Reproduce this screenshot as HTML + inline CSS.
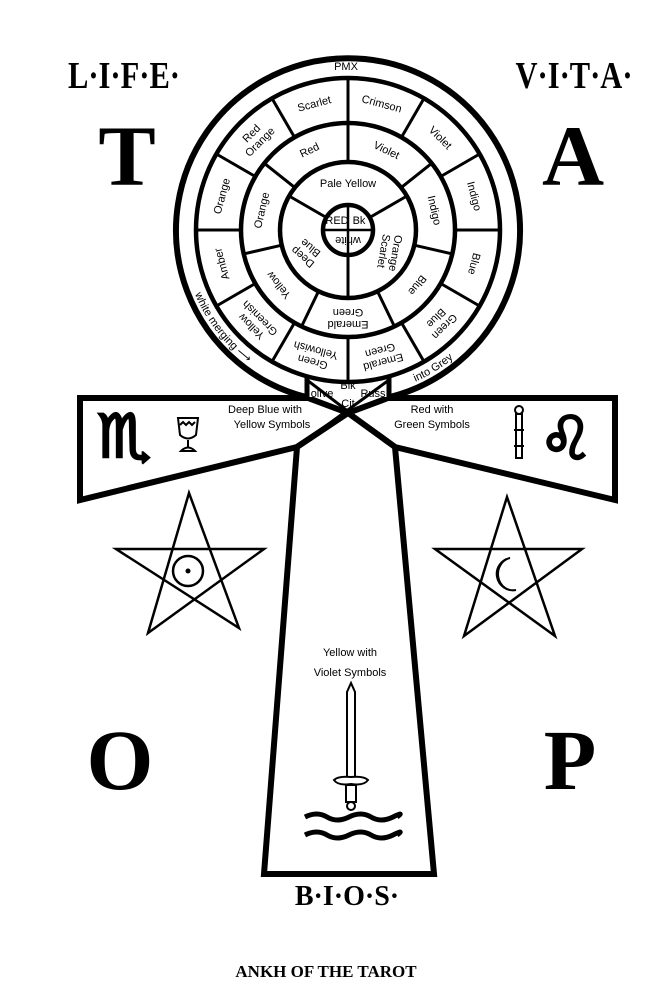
<!DOCTYPE html>
<html><head><meta charset="utf-8"><style>
html,body{margin:0;padding:0;background:#fff;}
svg{display:block;}
.h{font-family:"Liberation Sans",sans-serif;font-size:11px;fill:#000;text-anchor:middle;dominant-baseline:central;}
.s{font-family:"Liberation Serif",serif;font-weight:bold;fill:#000;text-anchor:middle;}
.z{font-family:"DejaVu Sans",sans-serif;fill:#000;stroke:#000;stroke-width:2.5;text-anchor:middle;}
</style></head><body>
<svg width="652" height="1000" viewBox="0 0 652 1000" xmlns="http://www.w3.org/2000/svg">
<rect width="652" height="1000" fill="#fff"/>
<text class="s" x="124" y="88" font-size="38" textLength="112" lengthAdjust="spacingAndGlyphs">L·I·F·E·</text>
<text class="s" x="574" y="88" font-size="38" textLength="117" lengthAdjust="spacingAndGlyphs">V·I·T·A·</text>
<text class="s" x="127" y="185" font-size="86">T</text>
<text class="s" x="573" y="185" font-size="86">A</text>
<text class="s" x="120" y="789" font-size="86" font-weight="normal">O</text>
<text class="s" x="570" y="789" font-size="86" font-weight="normal">P</text>
<text class="s" x="347" y="905" font-size="28">B·I·O·S·</text>
<text class="s" x="326" y="977" font-size="17">ANKH OF THE TAROT</text>

<g fill="#fff" stroke="#000" stroke-width="6" stroke-linejoin="miter">
<polygon points="80,398 308,398 348,413 297,447 80,500"/>
<polygon points="615,398 388,398 348,413 395,447 615,500"/>
<polygon points="297,447 348,413 395,447 434,874 264,874"/>
</g>
<path d="M306,397 A172,172 0 1 1 390,397" fill="#fff" stroke="#000" stroke-width="6"/>
<g stroke="#000" fill="none">
<line x1="307" y1="376" x2="307" y2="398" stroke-width="5"/>
<line x1="389" y1="376" x2="389" y2="398" stroke-width="5"/>
<line x1="307" y1="380" x2="395" y2="447" stroke-width="3"/>
<line x1="389" y1="380" x2="297" y2="447" stroke-width="3"/>
</g>
<text class="h" x="322" y="394" font-size="7">olive</text>
<text class="h" x="348" y="386" font-size="7">Blk</text>
<text class="h" x="373" y="394" font-size="7">Russ</text>
<text class="h" x="348" y="404" font-size="8">Cit</text>

<g fill="#fff" stroke="#000" stroke-width="4.5">
<circle cx="348" cy="230" r="152"/>
<circle cx="348" cy="230" r="107"/>
<circle cx="348" cy="230" r="68"/>
<circle cx="348" cy="230" r="25"/>
</g>
<g stroke="#000" stroke-width="3">
<line x1="348" y1="123" x2="348" y2="78"/>
<line x1="401.5" y1="137.3" x2="424" y2="98.4"/>
<line x1="440.7" y1="176.5" x2="479.6" y2="154"/>
<line x1="455" y1="230" x2="500" y2="230"/>
<line x1="440.7" y1="283.5" x2="479.6" y2="306"/>
<line x1="401.5" y1="322.7" x2="424" y2="361.6"/>
<line x1="348" y1="337" x2="348" y2="382"/>
<line x1="294.5" y1="322.7" x2="272" y2="361.6"/>
<line x1="255.3" y1="283.5" x2="216.4" y2="306"/>
<line x1="241" y1="230" x2="196" y2="230"/>
<line x1="255.3" y1="176.5" x2="216.4" y2="154"/>
<line x1="294.5" y1="137.3" x2="272" y2="98.4"/>
<line x1="348" y1="162" x2="348" y2="123"/>
<line x1="401.2" y1="187.6" x2="431.7" y2="163.3"/>
<line x1="414.3" y1="245.2" x2="452.3" y2="253.9"/>
<line x1="377.5" y1="291.3" x2="394.4" y2="326.4"/>
<line x1="318.5" y1="291.3" x2="301.6" y2="326.4"/>
<line x1="281.7" y1="245.2" x2="243.7" y2="253.9"/>
<line x1="294.8" y1="187.6" x2="264.3" y2="163.3"/>
<line x1="369.7" y1="217.5" x2="406.9" y2="196"/>
<line x1="348" y1="255" x2="348" y2="298"/>
<line x1="326.3" y1="217.5" x2="289.1" y2="196"/>
<line x1="348" y1="205" x2="348" y2="255" stroke-width="2.5"/>
<line x1="323" y1="230" x2="373" y2="230" stroke-width="2.5"/>
</g>
<text class="h" x="337" y="221" font-size="5">RED</text>
<text class="h" x="359" y="221" font-size="5">Bk</text>
<text class="h" x="348" y="240" font-size="6" transform="rotate(180 348 240)">white</text>

<text class="h" transform="translate(381.6,104.4) rotate(15)">Crimson</text>
<text class="h" transform="translate(439.9,138.1) rotate(45)">Violet</text>
<text class="h" transform="translate(473.6,196.3) rotate(75)">Indigo</text>
<text class="h" transform="translate(473.6,263.7) rotate(105)">Blue</text>
<text class="h" transform="translate(439.9,321.9) rotate(135)"><tspan x="0" dy="-6">Green</tspan><tspan x="0" dy="12">Blue</tspan></text>
<text class="h" transform="translate(381.6,355.6) rotate(165)"><tspan x="0" dy="-6">Emerald</tspan><tspan x="0" dy="12">Green</tspan></text>
<text class="h" transform="translate(314.4,355.6) rotate(195)"><tspan x="0" dy="-6">Green</tspan><tspan x="0" dy="12">Yellowish</tspan></text>
<text class="h" transform="translate(256.1,321.9) rotate(225)"><tspan x="0" dy="-6">Yellow</tspan><tspan x="0" dy="12">Greenish</tspan></text>
<text class="h" transform="translate(222.4,263.7) rotate(255)">Amber</text>
<text class="h" transform="translate(222.4,196.3) rotate(285)">Orange</text>
<text class="h" transform="translate(256.1,138.1) rotate(315)"><tspan x="0" dy="-6">Red</tspan><tspan x="0" dy="12">Orange</tspan></text>
<text class="h" transform="translate(314.4,104.4) rotate(345)">Scarlet</text>
<text class="h" transform="translate(386.2,150.7) rotate(25.7)">Violet</text>
<text class="h" transform="translate(433.8,210.4) rotate(77.1)">Indigo</text>
<text class="h" transform="translate(416.8,284.8) rotate(128.6)">Blue</text>
<text class="h" transform="translate(348,318) rotate(180)"><tspan x="0" dy="-6">Emerald</tspan><tspan x="0" dy="12">Green</tspan></text>
<text class="h" transform="translate(279.2,284.8) rotate(231.4)">Yellow</text>
<text class="h" transform="translate(262.2,210.4) rotate(282.9)">Orange</text>
<text class="h" transform="translate(309.8,150.7) rotate(334.3)">Red</text>
<text class="h" transform="translate(348,184)">Pale Yellow</text>
<text class="h" transform="translate(389,252) rotate(100)"><tspan x="0" dy="-6">Orange</tspan><tspan x="0" dy="12">Scarlet</tspan></text>
<text class="h" transform="translate(307,252) rotate(220)"><tspan x="0" dy="-6">Deep</tspan><tspan x="0" dy="12">Blue</tspan></text>

<text class="h" x="346" y="67" font-size="14">PMX</text>
<defs><path id="arc" d="M192,286.8 A166,166 0 0 0 504,286.8"/></defs>
<text font-family="Liberation Sans,sans-serif" font-size="11"><textPath href="#arc" startOffset="8">white merging ⟶</textPath></text>
<text font-family="Liberation Sans,sans-serif" font-size="11"><textPath href="#arc" startOffset="272">into Grey</textPath></text>

<text class="h" x="265" y="410">Deep Blue with</text>
<text class="h" x="272" y="425">Yellow Symbols</text>
<text class="h" x="432" y="410">Red with</text>
<text class="h" x="432" y="425">Green Symbols</text>
<text class="z" x="124" y="457" font-size="60">♏&#xFE0E;</text>
<text class="z" x="566" y="459" font-size="60">♌&#xFE0E;</text>
<g fill="none" stroke="#000" stroke-width="2">
<path d="M178,418 L198,418 L196,435 Q188,442 180,435 Z"/>
<path d="M180,425 l3,-3 l3,3 l3,-3 l3,3 l3,-3"/>
<line x1="188" y1="440" x2="188" y2="447"/>
<path d="M181,451 Q188,444 195,451 Z"/>
</g>
<g fill="none" stroke="#000" stroke-width="2">
<rect x="516" y="414" width="6" height="44"/>
<circle cx="519" cy="410" r="4"/>
<line x1="514" y1="430" x2="524" y2="430"/>
<line x1="514" y1="446" x2="524" y2="446"/>
</g>

<g fill="none" stroke="#000" stroke-width="2.5" stroke-linejoin="miter">
<polygon points="189,493 148,633 264,549 116,549 239,628"/>
<polygon points="507,497 464,636 582,549 435,549 555,636"/>
<circle cx="188" cy="571" r="15"/>
</g>
<circle cx="188" cy="571" r="2.5" fill="#000"/>
<path d="M510,558 A14,14 0 1 0 516,590 A11,12 0 1 1 510,558 Z" fill="none" stroke="#000" stroke-width="2"/>

<text class="h" x="350" y="653">Yellow with</text>
<text class="h" x="350" y="673">Violet Symbols</text>
<g fill="#fff" stroke="#000" stroke-width="2">
<path d="M347,778 L347,692 L351,683 L355,692 L355,778 Z"/>
<path d="M334,780 Q338,776 351,777 Q364,776 368,780 Q364,786 351,784 Q338,786 334,780 Z"/>
<rect x="346" y="785" width="10" height="17"/>
<circle cx="351" cy="806" r="4"/>
</g>
<g fill="none" stroke="#000" stroke-width="5">
<path d="M305,817 q12,-6 22,0 t22,0 t22,0 t22,0 t4,0"/>
<path d="M305,835 q12,-6 22,0 t22,0 t22,0 t22,0 t4,0"/>
</g>
</svg>
</body></html>
